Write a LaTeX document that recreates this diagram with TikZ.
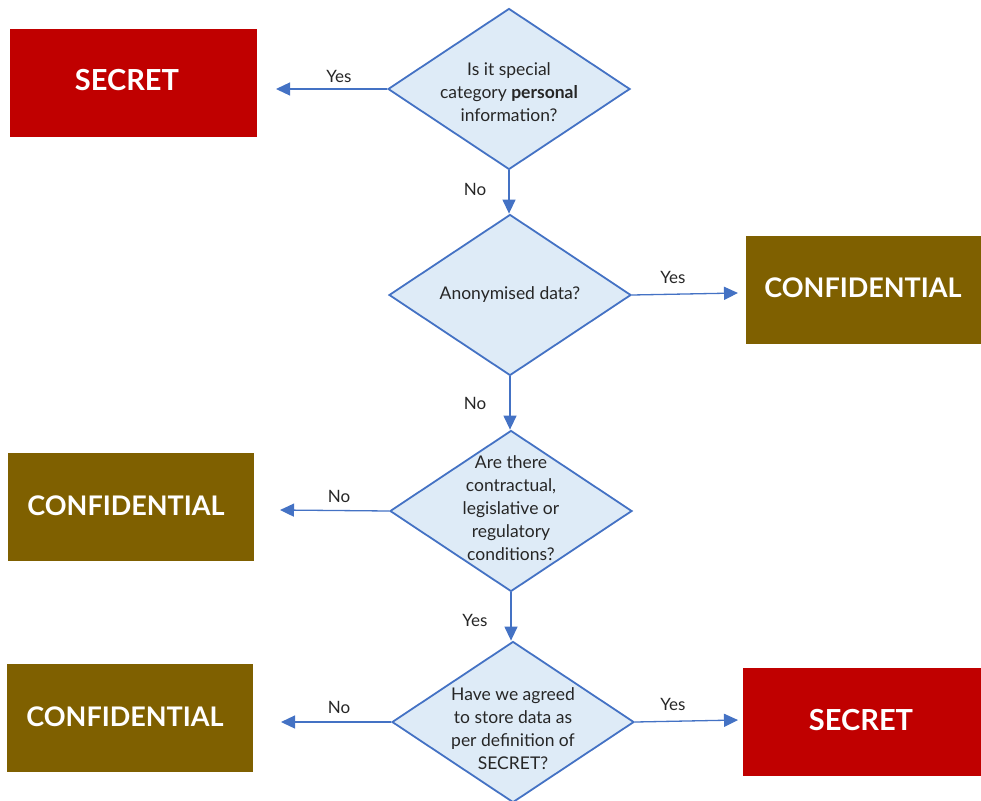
\documentclass[tikz,border=0pt]{standalone}
\usepackage{fontspec}
\setmainfont{Lato}
\usetikzlibrary{shapes.geometric,arrows.meta}
\definecolor{lineblue}{HTML}{4472C4}
\definecolor{fillblue}{HTML}{DEEBF7}
\definecolor{secretred}{HTML}{C00000}
\definecolor{confbrown}{HTML}{7F6000}
\definecolor{txtgray}{HTML}{262626}
\tikzset{
  decision/.style={shape=diamond, draw=lineblue, fill=fillblue, line width=1.8pt,
    minimum width=242pt, minimum height=161pt, inner sep=0pt},
  qtext/.style={align=center, text=txtgray, font=\fontsize{17.5}{23}\selectfont, inner sep=0pt},
  secretbox/.style={fill=secretred, minimum height=108pt, inner sep=0pt},
  confbox/.style={fill=confbrown, minimum height=108pt, inner sep=0pt},
  boxtext/.style={text=white, font=\fontsize{27}{30}\selectfont\bfseries, inner sep=0pt},
  flow/.style={draw=lineblue, line width=1.3pt, -{Triangle[length=14pt,width=13pt]}},
  lbl/.style={text=txtgray, font=\fontsize{17}{20}\selectfont, inner sep=0pt}
}
\begin{document}
\begin{tikzpicture}[x=1pt,y=-1pt]
\useasboundingbox (0,0) rectangle (981,800);

% decisions
\node[decision] (d1) at (509,89) {};
\node[qtext] (d1t) at (509,92) {Is it special\\category \textbf{personal}\\information?};
\node[decision] (d2) at (510,295) {};
\node[qtext] (d2t) at (510,295) {Anonymised data?};
\node[decision] (d3) at (511,511) {};
\node[qtext] (d3t) at (511,508) {Are there\\contractual,\\legislative or\\regulatory\\conditions?};
\node[decision] (d4) at (513,722) {};
\node[qtext] (d4t) at (513,729) {Have we agreed\\to store data as\\per definition of\\SECRET?};

% outcome boxes
\node[secretbox, minimum width=247pt] (s1) at (133.5,83) {};
\node[boxtext, font=\fontsize{29}{30}\selectfont\bfseries] (s1t) at (127,80) {SECRET};
\node[confbox, minimum width=235pt] (c2) at (863.5,290) {};
\node[boxtext] (c2t) at (863,288) {CONFIDENTIAL};
\node[confbox, minimum width=246pt] (c3) at (131,507) {};
\node[boxtext] (c3t) at (126,506) {CONFIDENTIAL};
\node[confbox, minimum width=246pt] (c4) at (130,718) {};
\node[boxtext] (c4t) at (125,717) {CONFIDENTIAL};
\node[secretbox, minimum width=238pt] (s4) at (862,722) {};
\node[boxtext, font=\fontsize{29}{30}\selectfont\bfseries] (s4t) at (861,720) {SECRET};

% arrow ends
\coordinate (a1) at (276,89);
\coordinate (a2) at (738,293);
\coordinate (a3) at (280,510);
\coordinate (a4) at (281,722);
\coordinate (a5) at (738,720);

% connectors
\draw[flow] (d1.west) -- (a1);
\draw[flow] (d1.south) -- (d1.south |- d2.north);
\draw[flow] (d2.east) -- (a2);
\draw[flow] (d2.south) -- (d2.south |- d3.north);
\draw[flow] (d3.west) -- (a3);
\draw[flow] (d3.south) -- (d3.south |- d4.north);
\draw[flow] (d4.west) -- (a4);
\draw[flow] (d4.east) -- (a5);

% labels
\node[lbl] (l1) at (339,76) {Yes};
\node[lbl] (l2) at (475,189) {No};
\node[lbl] (l3) at (673,277) {Yes};
\node[lbl] (l4) at (475,403) {No};
\node[lbl] (l5) at (339,496) {No};
\node[lbl] (l6) at (475,620) {Yes};
\node[lbl] (l7) at (339,707) {No};
\node[lbl] (l8) at (673,704) {Yes};
\end{tikzpicture}
\end{document}
